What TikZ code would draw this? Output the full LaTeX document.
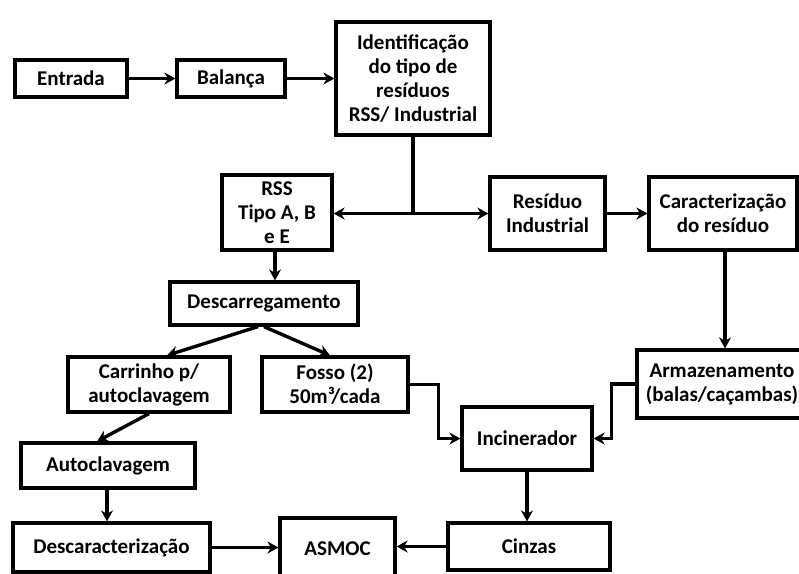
\documentclass[tikz,border=0pt]{standalone}
\usepackage{fontspec}
\setmainfont{Carlito}
\usetikzlibrary{arrows.meta}
\begin{document}
\begin{tikzpicture}[x=1pt,y=-1pt,
  box/.style={draw=black, line width=3.2pt, align=center, inner sep=0pt,
    font=\bfseries\fontsize{21}{24}\selectfont},
  arr/.style={line width=3.4pt, -{Stealth[length=11pt,width=12pt]}}]
\useasboundingbox (0,0) rectangle (799,573);
\clip (0,0) rectangle (799,573);
\node[box, minimum width=112pt, minimum height=37pt] (ent) at (71,78.5) {Entrada};
\node[box, minimum width=108pt, minimum height=37pt] (bal) at (231,78.5) {Balança};
\node[box, minimum width=154pt, minimum height=113pt] (ide) at (413,78.5) {Identificação\\do tipo de\\resíduos\\RSS/ Industrial};
\node[box, minimum width=110pt, minimum height=75pt] (rss) at (277,212.5) {RSS\\Tipo A, B\\e E};
\node[box, minimum width=115pt, minimum height=73pt] (res) at (547.5,213.5) {Resíduo\\Industrial};
\node[box, minimum width=148pt, minimum height=73pt] (car) at (723,213.5) {Caracterização\\do resíduo};
\node[box, minimum width=170pt, minimum height=68pt, text width=160pt] (arm) at (722,384) {Armazenamento\\(balas/caçambas)};
\node[box, minimum width=188pt, minimum height=43pt] (des) at (264,303.5) {Descarregamento};
\node[box, minimum width=162pt, minimum height=55pt] (cart) at (149,384.5) {Carrinho p/\\autoclavagem};
\node[box, minimum width=146pt, minimum height=55pt] (fos) at (335,384.5) {Fosso (2)\\50m³/cada};
\node[box, minimum width=130pt, minimum height=63pt] (inc) at (527,438.5) {Incinerador};
\node[box, minimum width=174pt, minimum height=45pt] (aut) at (108,465.5) {Autoclavagem};
\node[box, minimum width=197pt, minimum height=49pt] (dsc) at (111.5,547.5) {Descaracterização};
\node[box, minimum width=115pt, minimum height=62pt] (asm) at (337.5,549) {ASMOC};
\node[box, minimum width=162pt, minimum height=47pt] (cin) at (529,546.5) {Cinzas};
\draw[arr] (ent.east) -- (bal.west);
\draw[arr] (bal.east) -- (ide.west);
\coordinate (j) at (ide.south |- res.west);
\draw[line width=3.4pt] (ide.south) -- (j);
\draw[arr] (j) -- (res.west);
\draw[arr] (j) -- (rss.east |- j);
\draw[arr] (res.east) -- (car.west);
\draw[arr] ([xshift=2pt]car.south) -- ([xshift=2pt]car.south |- arm.north);
\draw[arr] ([xshift=-2pt]rss.south) -- ([xshift=-2pt]rss.south |- des.north);
\draw[arr] ([xshift=-6pt]des.south) -- ([xshift=18pt]cart.north);
\draw[arr] (des.south) -- ([xshift=-5pt]fos.north);
\draw[arr] (cart.south) -- ([xshift=-11pt]aut.north);
\draw[arr] ([xshift=-1pt]aut.south) -- ([xshift=-1pt]aut.south |- dsc.north);
\draw[arr] (dsc.east) -- (asm.west |- dsc.east);
\draw[arr] (cin.west) -- (asm.east |- cin.west);
\draw[arr] (fos.east) -- ++(29,0) |- (inc.west);
\draw[arr] (arm.west) -- ++(-24,0) |- (inc.east);
\draw[arr] (inc.south) -- (inc.south |- cin.north);
\end{tikzpicture}
\end{document}
